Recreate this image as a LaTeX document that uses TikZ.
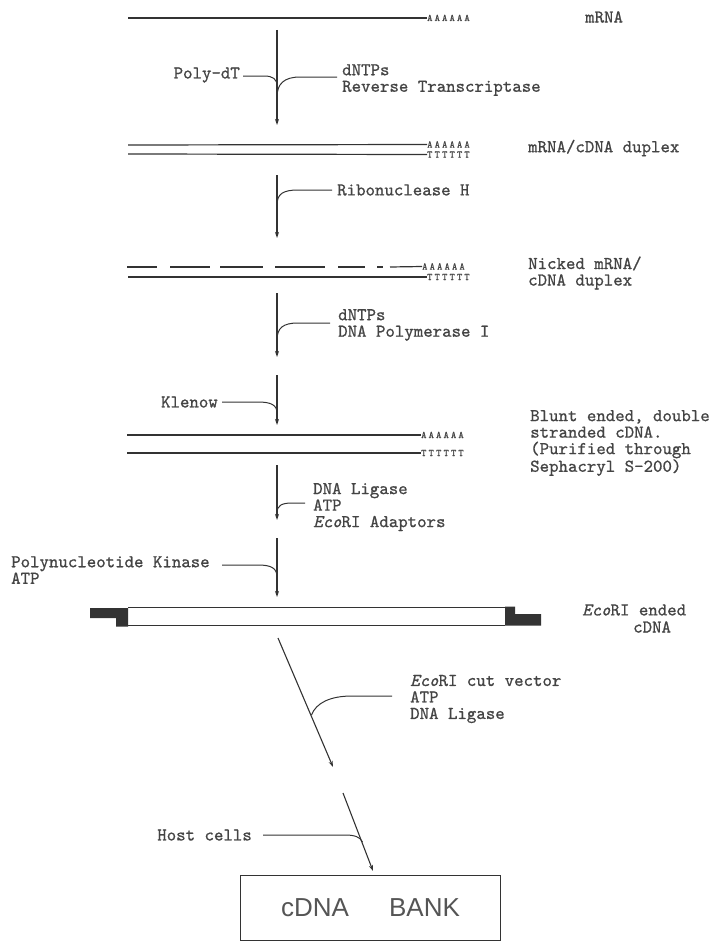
\documentclass[tikz,border=0pt]{standalone}
\usepackage{fontspec}
\newfontfamily\monof[Extension=.otf, UprightFont=*-regular, ItalicFont=*-italic, FakeBold=0.9]{lmmono10}
\newfontfamily\tailf[Extension=.otf, UprightFont=*-regular, FakeBold=0.9, LetterSpace=22]{lmmono10}
\newfontfamily\sansf{Liberation Sans}
\usetikzlibrary{arrows.meta}
\definecolor{ink}{HTML}{333333}
\definecolor{txt}{HTML}{444444}
\definecolor{soft}{HTML}{555555}
\begin{document}
\begin{tikzpicture}[x=1pt,y=-1pt,
  lbl/.style={inner sep=0pt, font=\monof\fontsize{18}{16.5}\selectfont, text=txt, align=left},
  tail/.style={inner sep=0pt, font=\tailf\fontsize{10}{10}\selectfont, text=txt, anchor=west,
    text height=6pt, text depth=0pt},
  strand/.style={line width=1.2pt, draw=ink},
  flow/.style={line width=1.1pt, draw=ink, -{Stealth[length=6pt,width=4pt]}},
  feed/.style={line width=1pt, draw=ink}]
\useasboundingbox (0,0) rectangle (713,942);

% ---------- strands ----------
% mRNA
\coordinate (m0) at (128,18);
\node[tail] (mA) at (427,18) {AAAAAA};
\draw[strand] (m0) -- (mA.west);
\node[lbl,anchor=west] (mlab) at (585,17) {mRNA};

% mRNA/cDNA duplex
\coordinate (d0) at (128,145);
\coordinate (d1) at (128,154);
\node[tail] (dA) at (427,144.5) {AAAAAA};
\node[tail] (dT) at (427,154.5) {TTTTTT};
\draw[strand] (d0) -- (dA.west);
\draw[strand] (d1) -- (dT.west);
\node[lbl,anchor=west] (dlab) at (528,148) {mRNA/cDNA duplex};

% Nicked duplex
\node[tail] (nA) at (422,266.5) {AAAAAA};
\node[tail] (nT) at (427,277) {TTTTTT};
\coordinate (n1) at (128,277);
\draw[strand] (n1) -- (nT.west);
\foreach \a/\b in {127/157,170/210,220/263,275/325,338/365,377/383}
  \draw[strand] (\a,267) -- (\b,267);
\coordinate (n0) at (390,267);
\draw[strand] (n0) -- (nA.west);
\node[lbl,anchor=west] (nlab) at (528,273) {Nicked mRNA/\\cDNA duplex};

% Blunt ended
\coordinate (b0) at (127,435);
\coordinate (b1) at (127,453);
\node[tail] (bA) at (421,435) {AAAAAA};
\node[tail] (bT) at (421,453) {TTTTTT};
\draw[strand] (b0) -- (bA.west);
\draw[strand] (b1) -- (bT.west);
\node[lbl,anchor=west] (blab) at (530,443) {Blunt ended, double\\stranded cDNA.\\(Purified through\\Sephacryl S-200)};

% EcoRI ended cDNA
\coordinate (e0) at (128,607.5);
\coordinate (e1) at (505,607.5);
\coordinate (e2) at (128,625.5);
\coordinate (e3) at (505,625.5);
\draw[strand] (e0) -- (e1);
\draw[strand] (e2) -- (e3);
\fill[ink] (90,608) -- (128,608) -- (128,626.5) -- (116,626.5) -- (116,618) -- (90,618) -- cycle;
\fill[ink] (505,606.5) -- (515,606.5) -- (515,614) -- (541,614) -- (541,625.5) -- (505,625.5) -- cycle;
\node[lbl,anchor=west] (elab1) at (582,610) {\textit{Eco}RI ended};
\node[lbl,anchor=west] (elab2) at (633,627) {cDNA};

% ---------- step arrows ----------
\coordinate (a1s) at (277,30);  \coordinate (a1e) at (277,125);
\coordinate (a2s) at (277,175); \coordinate (a2e) at (277,238);
\coordinate (a3s) at (277,293); \coordinate (a3e) at (277,357);
\coordinate (a4s) at (277,375); \coordinate (a4e) at (277,425);
\coordinate (a5s) at (277,465); \coordinate (a5e) at (277,520);
\coordinate (a6s) at (277,538); \coordinate (a6e) at (277,597);
\coordinate (a7s) at (278,638); \coordinate (a7e) at (333,767);
\coordinate (a8s) at (343,793); \coordinate (a8e) at (373,871);
\foreach \i in {1,...,8} \draw[flow] (a\i s) -- (a\i e);

% ---------- reagents ----------
\node[lbl,anchor=east] (polydt) at (240,75) {Poly-dT};
\coordinate (j1) at (277,86);
\draw[feed] (243,76) -- (264,76) .. controls (273,76) and (277,79) .. (j1);

\node[lbl,anchor=west] (rt) at (342,80) {dNTPs\\Reverse Transcriptase};
\coordinate (j2) at (277,97);
\draw[feed] (337,77) -- (300,77) .. controls (284,77) and (277,84) .. (j2);

\node[lbl,anchor=west] (rnase) at (337,190) {Ribonuclease H};
\coordinate (j3) at (277,205);
\draw[feed] (332,190) -- (298,190) .. controls (283,190) and (277,194) .. (j3);

\node[lbl,anchor=west] (pol) at (338,325) {dNTPs\\DNA Polymerase I};
\coordinate (j4) at (277,340);
\draw[feed] (330,323) -- (298,323) .. controls (283,323) and (277,328) .. (j4);

\node[lbl,anchor=east] (klenow) at (218,402) {Klenow};
\coordinate (j5) at (277,413);
\draw[feed] (222,402) -- (258,402) .. controls (271,402) and (277,405) .. (j5);

\node[lbl,anchor=west] (lig) at (313,507) {DNA Ligase\\ATP\\\textit{Eco}RI Adaptors};
\coordinate (j6) at (277,513);
\draw[feed] (305,503) -- (292,503) .. controls (281,503) and (277,506) .. (j6);

\node[lbl,anchor=west] (kin) at (11,570) {Polynucleotide Kinase\\ATP};
\coordinate (j7) at (277,577);
\draw[feed] (222,565) -- (258,565) .. controls (271,565) and (277,568) .. (j7);

\node[lbl,anchor=west] (vec) at (410,699) {\textit{Eco}RI cut vector\\ATP\\DNA Ligase};
\coordinate (j8) at (311.5,715);
\draw[feed] (392,696) -- (352,696) .. controls (330,696) and (316,703) .. (j8);

\node[lbl,anchor=east] (host) at (252,835) {Host cells};
\coordinate (j9) at (362.5,842);
\draw[feed] (263,835) -- (345,835) .. controls (355,835) and (360,837) .. (j9);

% ---------- cDNA bank ----------
\node[draw=ink, line width=1.1pt, minimum width=260pt, minimum height=65pt, inner sep=0pt, anchor=north west,
  font=\sansf\fontsize{26}{26}\selectfont, text=soft] (bank) at (240,875) {cDNA\hspace{40pt}BANK};
\end{tikzpicture}
\end{document}
